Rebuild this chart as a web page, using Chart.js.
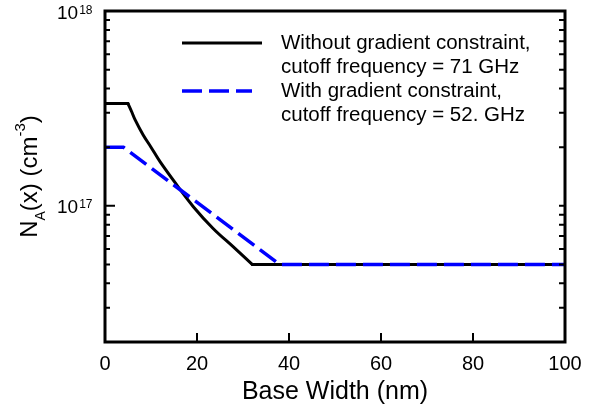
<!DOCTYPE html>
<html>
<head>
<meta charset="utf-8">
<script src="https://cdn.jsdelivr.net/npm/chart.js@4/dist/chart.umd.min.js"></script>
<style>
  html, body { margin: 0; padding: 0; background: #fff; }
  #wrap { width: 600px; height: 412px; }
</style>
</head>
<body>
<div id="wrap"><canvas id="chart" width="600" height="412"></canvas></div>
<script>
// Doping profile N_A(x) vs base width, with / without gradient constraint

const FONT = "'Liberation Sans', Arial, Helvetica, sans-serif";

// black solid curve: without gradient constraint
const xNoGrad = [0, 5, 5.8, 6.5, 8.3, 10, 12, 15.6, 19.2, 23.5, 27.9, 32, 100];
const yNoGrad = [3.35e17, 3.35e17, 3.04e17, 2.78e17, 2.31e17, 2.0e17, 1.68e17, 1.28e17, 9.9e16, 7.65e16, 6.15e16, 5e16, 5e16];

// blue dashed line: with gradient constraint
const xWithGrad = [0, 4, 38, 100];
const yWithGrad = [2e17, 2e17, 5e16, 5e16];

const legendLabels = [
    ['Without gradient constraint,', 'cutoff frequency = 71 GHz'],
    ['With gradient constraint,', 'cutoff frequency = 52. GHz']
];

const xTickValues = [0, 20, 40, 60, 80, 100];
const yTickValues = [1e17, 1e18];
const yTickExps = ['17', '18'];
const yMinorTicks = [2e16, 3e16, 4e16, 5e16, 6e16, 7e16, 8e16, 9e16,
                     2e17, 3e17, 4e17, 5e17, 6e17, 7e17, 8e17, 9e17];

function toPoints(xs, ys) {
    return xs.map((x, i) => ({ x: x, y: ys[i] }));
}

// the black profile: flat plateau, smooth fall, flat tail (corners stay sharp)
const noGradPts = toPoints(xNoGrad, yNoGrad);
const n = noGradPts.length;
const blackStyle = { borderColor: '#000000', borderWidth: 3, pointRadius: 0, fill: false, order: 2, borderCapStyle: 'round' };

// frame, inward ticks, y labels with superscripts, y title, legend
const decorPlugin = {
    id: 'decor',
    afterDatasetsDraw(chart) {
        const ctx = chart.ctx;
        const a = chart.chartArea;
        const xs = chart.scales.x;
        const ys = chart.scales.y;
        ctx.save();
        ctx.strokeStyle = '#000';
        ctx.fillStyle = '#000';
        ctx.lineCap = 'butt';

        // ticks
        ctx.lineWidth = 2;
        ctx.beginPath();
        xTickValues.forEach(v => {
            const px = xs.getPixelForValue(v);
            ctx.moveTo(px, a.bottom);
            ctx.lineTo(px, a.bottom - 9);
        });
        yTickValues.forEach(v => {
            const py = ys.getPixelForValue(v);
            ctx.moveTo(a.left, py);
            ctx.lineTo(a.left + 10, py);
            ctx.moveTo(a.right, py);
            ctx.lineTo(a.right - 6, py);
        });
        yMinorTicks.forEach(v => {
            const py = ys.getPixelForValue(v);
            ctx.moveTo(a.left, py);
            ctx.lineTo(a.left + 5, py);
            ctx.moveTo(a.right, py);
            ctx.lineTo(a.right - 6, py);
        });
        ctx.stroke();

        // frame
        ctx.lineWidth = 3;
        ctx.strokeRect(a.left, a.top, a.right - a.left, a.bottom - a.top);

        // y tick labels 10^n
        ctx.textAlign = 'left';
        ctx.textBaseline = 'alphabetic';
        yTickValues.forEach((v, i) => {
            const py = ys.getPixelForValue(v);
            ctx.font = '19px ' + FONT;
            ctx.fillText('10', a.left - 48, py + 7.5);
            const w = ctx.measureText('10').width;
            ctx.font = '12px ' + FONT;
            ctx.fillText(yTickExps[i], a.left - 48 + w + 1, py + 2.5);
        });

        // y axis title N_A(x) (cm^-3)
        const parts = [
            { t: 'N', size: 24, dy: 0 },
            { t: 'A', size: 14, dy: 8 },
            { t: '(x) (cm', size: 24, dy: 0 },
            { t: '-3', size: 15, dy: -12 },
            { t: ')', size: 24, dy: 0 }
        ];
        let total = 0;
        parts.forEach(p => {
            ctx.font = p.size + 'px ' + FONT;
            p.w = ctx.measureText(p.t).width;
            total += p.w;
        });
        ctx.save();
        ctx.translate(37, (a.top + a.bottom) / 2);
        ctx.rotate(-Math.PI / 2);
        let cx = -total / 2;
        parts.forEach(p => {
            ctx.font = p.size + 'px ' + FONT;
            ctx.fillText(p.t, cx, p.dy);
            cx += p.w;
        });
        ctx.restore();

        // legend (styles taken from the datasets)
        const black = chart.data.datasets[0];
        const blue = chart.data.datasets[3];
        const items = [black, blue];
        const lx0 = a.left + 77;
        const tx = a.left + 176;
        const rows = [a.top + 32, a.top + 80];
        items.forEach((d, i) => {
            const ly = rows[i];
            ctx.save();
            ctx.strokeStyle = d.borderColor;
            ctx.lineWidth = d.borderWidth;
            ctx.setLineDash(d.borderDash || []);
            ctx.beginPath();
            ctx.moveTo(lx0, ly);
            ctx.lineTo(lx0 + (d.borderDash ? 70 : 80), ly);
            ctx.stroke();
            ctx.restore();
            ctx.font = '20.5px ' + FONT;
            ctx.fillText(legendLabels[i][0], tx, ly + 6);
            ctx.fillText(legendLabels[i][1], tx, ly + 30);
        });
        ctx.restore();
    }
};

new Chart(document.getElementById('chart'), {
    type: 'line',
    data: {
        datasets: [
            Object.assign({ label: 'Without gradient constraint', data: noGradPts.slice(0, 2), tension: 0 }, blackStyle),
            Object.assign({ label: '', data: noGradPts.slice(1, n - 1), tension: 0.35 }, blackStyle),
            Object.assign({ label: '', data: noGradPts.slice(n - 2), tension: 0 }, blackStyle),
            {
                label: 'With gradient constraint',
                data: toPoints(xWithGrad, yWithGrad),
                borderColor: '#0000ff',
                borderWidth: 3.5,
                borderDash: [20, 7],
                pointRadius: 0,
                tension: 0,
                fill: false,
                order: 1
            }
        ]
    },
    options: {
        responsive: false,
        animation: false,
        layout: { padding: { left: 0, right: 35, top: 11, bottom: 0 } },
        plugins: {
            legend: { display: false },
            tooltip: { enabled: false }
        },
        scales: {
            x: {
                type: 'linear',
                min: 0,
                max: 100,
                afterFit(scale) { scale.height = 70; },
                afterBuildTicks(scale) { scale.ticks = xTickValues.map(v => ({ value: v })); },
                grid: { display: false, drawTicks: false },
                border: { display: false },
                ticks: { color: '#000', padding: 10, font: { size: 20, family: FONT } },
                title: {
                    display: true,
                    text: 'Base Width (nm)',
                    color: '#000',
                    font: { size: 25, family: FONT },
                    padding: { top: 0, bottom: 5 }
                }
            },
            y: {
                type: 'logarithmic',
                min: 2e16,
                max: 1e18,
                afterFit(scale) { scale.width = 105; },
                grid: { display: false, drawTicks: false },
                border: { display: false },
                ticks: { display: false }
            }
        }
    },
    plugins: [decorPlugin]
});
</script>
</body>
</html>
